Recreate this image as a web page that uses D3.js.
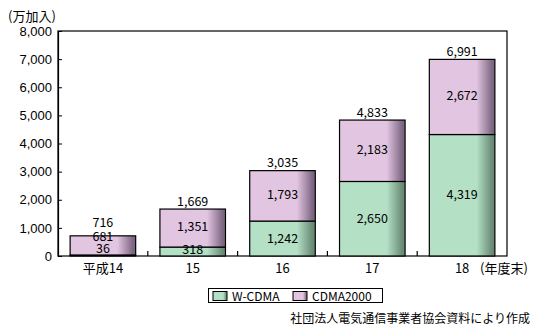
<!DOCTYPE html>
<html>
<head>
<meta charset="utf-8">
<script src="https://cdn.jsdelivr.net/npm/d3@7"></script>
<style>
  body { margin: 0; background: #fff; }
  svg { display: block; font-family: "Noto Sans CJK JP", "Noto Sans", sans-serif; }
</style>
</head>
<body>
<svg id="chart" width="543" height="336"></svg>
<script>
// 第3世代携帯電話の加入数（年度末、万加入）
const years = ["平成14", "15", "16", "17", "18"];
const wcdma = [36, 318, 1242, 2650, 4319];
const cdma2000 = [681, 1351, 1793, 2183, 2672];
const totals = [716, 1669, 3035, 4833, 6991];
const yTicks = [0, 1000, 2000, 3000, 4000, 5000, 6000, 7000, 8000];
const seriesNames = ["W-CDMA", "CDMA2000"];

const svg = d3.select("#chart");
const margin = { left: 58, right: 36, top: 31, bottom: 80 };
const W = 543, H = 336;
const x0 = margin.left, x1 = W - margin.right;
const y0 = H - margin.bottom, y1 = margin.top;

const x = d3.scaleBand().domain(years).range([x0, x1]).paddingInner(0.27).paddingOuter(0.135);
const y = d3.scaleLinear().domain([0, 8000]).range([y0, y1]);

// bar fills: flat colour fading to a darker right edge
const fills = [
  { id: "gW", light: "#b4e1c5", dark: "#698a76" },
  { id: "gC", light: "#e2c5e0", dark: "#7d6682" }
];
const defs = svg.append("defs");
fills.forEach(f => {
  const g = defs.append("linearGradient").attr("id", f.id).attr("x1", "0").attr("x2", "1").attr("y1", "0").attr("y2", "0");
  g.append("stop").attr("offset", "0").attr("stop-color", f.light);
  g.append("stop").attr("offset", "0.72").attr("stop-color", f.light);
  g.append("stop").attr("offset", "0.96").attr("stop-color", f.dark);
  g.append("stop").attr("offset", "1").attr("stop-color", f.dark);
});

// plot frame
svg.append("rect").attr("x", x0).attr("y", y1).attr("width", x1 - x0).attr("height", y0 - y1)
  .attr("fill", "none").attr("stroke", "#000").attr("stroke-width", 1.2);

// stacked bars
const stackData = years.map((yr, i) => ({ year: yr, w: wcdma[i], c: cdma2000[i] }));
const stacked = d3.stack().keys(["w", "c"])(stackData);
stacked.forEach((layer, li) => {
  svg.append("g").selectAll("rect").data(layer).join("rect")
    .attr("x", d => x(d.data.year))
    .attr("width", x.bandwidth())
    .attr("y", d => y(d[1]))
    .attr("height", d => y(d[0]) - y(d[1]))
    .attr("fill", `url(#${fills[li].id})`)
    .attr("stroke", "#000").attr("stroke-width", 1.2);
});

// y axis with inward ticks
const yAxis = svg.append("g").attr("transform", `translate(${x0},0)`)
  .call(d3.axisLeft(y).tickValues(yTicks).tickFormat(d3.format(",")).tickSize(-4).tickPadding(6));
yAxis.select(".domain").attr("stroke-width", 1.2);
yAxis.selectAll("text").attr("font-size", 13).attr("fill", "#000");

// x axis: ticks at category boundaries, pointing up
const step = x.step();
const bounds = years.slice(1).map((yr) => x(yr) - step * x.paddingInner() / 2);
svg.append("g").selectAll("line").data(bounds).join("line")
  .attr("x1", d => d).attr("x2", d => d).attr("y1", y0).attr("y2", y0 - 5)
  .attr("stroke", "#000").attr("stroke-width", 1.2);
svg.append("g").selectAll("text").data(years).join("text")
  .attr("x", d => x(d) + x.bandwidth() / 2).attr("y", y0 + 17)
  .attr("text-anchor", "middle").attr("font-size", 13).text(d => d);

// value labels
const fmt = d3.format(",");
const lab = svg.append("g").attr("font-size", 12.5).attr("text-anchor", "middle");
stackData.forEach((d, i) => {
  const cx = x(d.year) + x.bandwidth() / 2;
  const top = y(totals[i]);
  const wTop = y(d.w);
  if (y0 - top < 25) {
    // short bar: total lifted, both segment labels stacked inside
    lab.append("text").attr("x", cx).attr("y", top - 8.5).text(fmt(totals[i]));
    lab.append("text").attr("x", cx).attr("y", top + 5.5).text(fmt(d.c));
    lab.append("text").attr("x", cx).attr("y", y0 - 3.5).text(fmt(d.w));
  } else {
    lab.append("text").attr("x", cx).attr("y", top - 3.5).text(fmt(totals[i]));
    const wMid = (wTop + y0) / 2, cMid = (top + wTop) / 2;
    lab.append("text").attr("x", cx).attr("y", Math.min(cMid, wTop - 10) + 3).text(fmt(d.c));
    lab.append("text").attr("x", cx).attr("y", Math.min(wMid, y0 - 6) + 4).text(fmt(d.w));
  }
});

// axis captions
svg.append("text").attr("x", 8).attr("y", 21).attr("font-size", 13).text("(万加入)");
svg.append("text").attr("x", 480).attr("y", y0 + 17).attr("font-size", 13).text("(年度末)");

// legend
const lg = svg.append("g");
lg.append("rect").attr("x", 208.5).attr("y", 288.5).attr("width", 174).attr("height", 14)
  .attr("fill", "#fff").attr("stroke", "#000").attr("stroke-width", 1);
const legendX = [213, 293];
seriesNames.forEach((n, i) => {
  lg.append("rect").attr("x", legendX[i]).attr("y", 291.5).attr("width", 14).attr("height", 9)
    .attr("fill", `url(#${fills[i].id})`).attr("stroke", "#000").attr("stroke-width", 1);
  lg.append("text").attr("x", legendX[i] + 19).attr("y", 300.5).attr("font-size", 12).text(n);
});

// source note
svg.append("text").attr("x", 530).attr("y", 323).attr("text-anchor", "end").attr("font-size", 12)
  .text("社団法人電気通信事業者協会資料により作成");
</script>
</body>
</html>
